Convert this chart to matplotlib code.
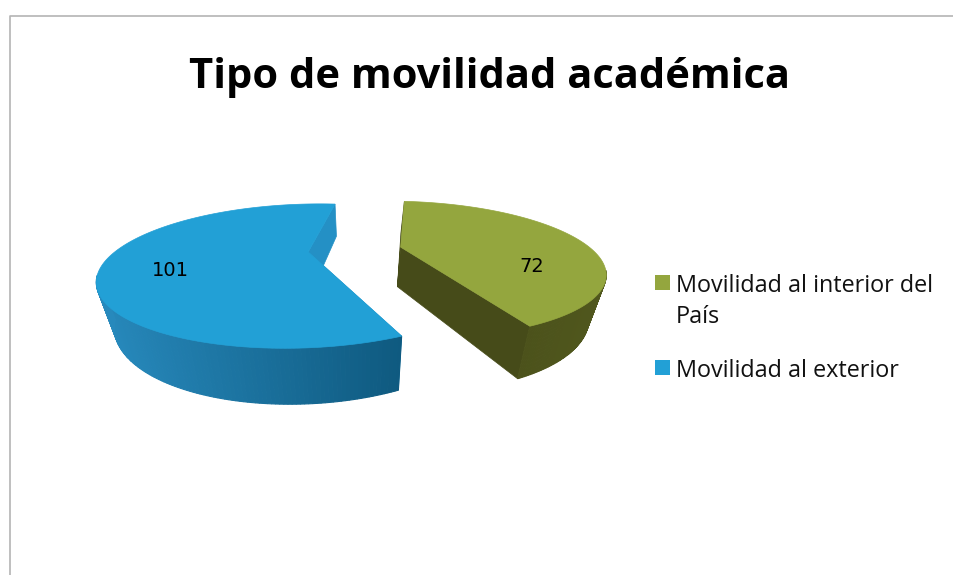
#!/usr/bin/env python3

import matplotlib
matplotlib.use('Agg')
import matplotlib.pyplot as plt
from matplotlib.patches import Polygon, Rectangle
import numpy as np

title = 'Tipo de movilidad académica'
labels = ['Movilidad al interior del\nPaís', 'Movilidad al exterior']
values = [72, 101]
top_colors = ['#94A63E', '#22A0D6']
wall_colors = ['#464B19', '#2490C5']
side_left = ['#454A18', '#2789BC']
side_right = ['#50571D', '#0F5A80']
label_pos = [(532, 266), (170, 271)]

# fake 3d view of the pie, in image pixels
cx, cy = 355, 249.5
a, b = 191, 62.5
k = 0.33
depth = 40
shrink = 0.93
explode = 0.245
start = 6

plt.rcParams['font.family'] = ['Open Sans', 'DejaVu Sans']


def project(x, y, bottom=False):
    w = 1 + k * y
    px = cx + a * x / w
    py = cy - b * y / w
    if bottom:
        px = cx + (px - cx) * shrink
        py = py + depth / w ** 0.8
    return px, py


fig, axes = plt.subplots(figsize=(9.54, 5.75), dpi=100)
axes.set_position([0, 0, 1, 1])
axes.set_xlim(0, 954)
axes.set_ylim(575, 0)
axes.axis('off')

# frame round the chart
axes.plot([10.5, 10.5, 954], [575, 15.5, 15.5], c='#B4B4B4', lw=1.2)

angle = start
for i, val in enumerate(values):
    span = 360 * val / sum(values)
    theta = np.radians(np.linspace(angle, angle + span, 241))
    mid = np.radians(angle + span / 2)
    ox, oy = explode * np.sin(mid), explode * np.cos(mid)
    rx, ry = ox + np.sin(theta), oy + np.cos(theta)

    top = np.column_stack(project(rx, ry))
    low = np.column_stack(project(rx, ry, True))
    apex = project(ox, oy)
    apex_low = project(ox, oy, True)

    # flat cut faces first
    for j in (0, -1):
        axes.add_patch(Polygon([apex, top[j], low[j], apex_low],
                               fc=wall_colors[i], ec=wall_colors[i], lw=0.5, zorder=2 + i * 3))

    # outer wall as thin strips so it can shade from left to right, front part only
    c0 = np.array(matplotlib.colors.to_rgb(side_left[i]))
    c1 = np.array(matplotlib.colors.to_rgb(side_right[i]))
    x0, x1 = top[:, 0].min(), top[:, 0].max()
    for j in range(len(theta) - 1):
        if np.cos(theta[j]) > -k:
            continue
        t = (top[j, 0] - x0) / (x1 - x0)
        col = c0 + (c1 - c0) * t
        axes.add_patch(Polygon([top[j], top[j + 1], low[j + 1], low[j]],
                               fc=col, ec=col, lw=0.8, zorder=3 + i * 3))

    axes.add_patch(Polygon(np.vstack([[apex], top]), fc=top_colors[i], ec=top_colors[i],
                           lw=0.5, zorder=4 + i * 3))
    axes.text(label_pos[i][0], label_pos[i][1], str(val), ha='center', va='center',
              fontsize=14, family='DejaVu Sans', color='black', zorder=10)
    angle += span

axes.text(490, 88, title, ha='center', va='baseline', fontsize=30, fontweight='bold', color='black')

# legend
swatch_y = [275, 360]
text_y = [292, 377]
for i, lab in enumerate(labels):
    axes.add_patch(Rectangle((655, swatch_y[i]), 15, 15, fc=top_colors[i], ec='none'))
    for n, line in enumerate(lab.split('\n')):
        axes.text(676, text_y[i] + n * 31, line, ha='left', va='baseline', fontsize=16.8, color='#111111')

plt.savefig('out.png', dpi=100)
